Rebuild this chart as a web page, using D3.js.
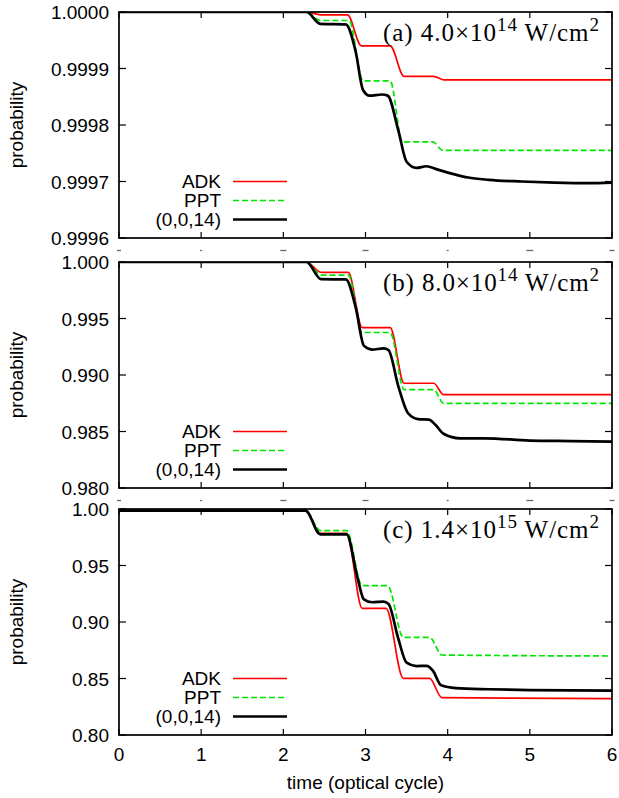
<!DOCTYPE html>
<html>
<head>
<meta charset="utf-8">
<script src="https://cdn.jsdelivr.net/npm/d3@7/dist/d3.min.js"></script>
<style>
  body { margin: 0; background: #fff; }
  svg { display: block; }
  text { font-family: "Liberation Sans", Arial, sans-serif; }
  text.ann { font-family: "Liberation Serif", "Times New Roman", serif; }
</style>
</head>
<body>
<div id="graph"></div>
<script>
// time in optical cycles, probability
var adkA = [[0,1],[2.28,1],[2.45,0.999995],[2.78,0.999995],[2.95,0.99994],[3.30,0.99994],[3.47,0.999886],[3.83,0.999886],[3.95,0.99988],[6,0.99988]]
var pptA = [[0,1],[2.28,1],[2.45,0.999985],[2.80,0.999985],[2.97,0.999878],[3.30,0.999878],[3.45,0.99977],[3.82,0.99977],[3.94,0.999755],[6,0.999755]]
var tdA  = [[0,1],[2.28,1],[2.45,0.999979],[2.76,0.999978],[2.88,0.99993],[2.97,0.999862],[3.05,0.999852],[3.20,0.999854],[3.27,0.999852],[3.40,0.99979],[3.50,0.999735],[3.62,0.999724],[3.74,0.999727],[3.88,0.999721],[4.05,0.999714],[4.25,0.999707],[4.5,0.999703],[4.9,0.999700],[5.3,0.999698],[5.7,0.999697],[6,0.999698]]

var adkB = [[0,1],[2.28,1],[2.46,0.99908],[2.79,0.99908],[2.96,0.99420],[3.30,0.99420],[3.47,0.98927],[3.83,0.98927],[3.95,0.98826],[6,0.98826]]
var pptB = [[0,1],[2.28,1],[2.46,0.99884],[2.79,0.99884],[2.96,0.99376],[3.30,0.99376],[3.47,0.98871],[3.83,0.98871],[3.95,0.98749],[6,0.98749]]
var tdB  = [[0,1],[2.28,1],[2.46,0.99848],[2.76,0.99846],[2.88,0.9960],[2.98,0.99260],[3.08,0.99225],[3.22,0.99235],[3.28,0.99220],[3.40,0.9890],[3.52,0.98660],[3.64,0.98610],[3.77,0.98605],[3.85,0.98560],[3.95,0.98480],[4.15,0.98440],[4.45,0.98440],[5.0,0.98420],[5.5,0.98415],[6,0.98410]]

var adkC = [[0,0.9985],[2.27,0.9985],[2.45,0.97847],[2.77,0.97847],[2.96,0.91209],[3.25,0.91209],[3.46,0.85015],[3.78,0.85015],[3.93,0.83304],[6,0.83215]]
var pptC = [[0,0.9985],[2.27,0.9985],[2.45,0.98083],[2.77,0.98083],[2.96,0.93215],[3.27,0.93215],[3.46,0.88643],[3.78,0.88643],[3.93,0.87080],[6,0.86991]]
var tdC  = [[0,0.9985],[2.27,0.9985],[2.45,0.97758],[2.77,0.97758],[2.90,0.94],[2.98,0.9200],[3.08,0.9175],[3.22,0.9180],[3.28,0.9160],[3.40,0.8850],[3.50,0.8640],[3.62,0.8610],[3.74,0.8612],[3.82,0.8570],[3.92,0.8440],[4.1,0.8415],[4.5,0.8405],[5.0,0.8398],[6,0.8392]]

var xTicks = [0, 1, 2, 3, 4, 5, 6]
var yTicksA = [0.9996, 0.9997, 0.9998, 0.9999, 1.0000]
var yTicksB = [0.980, 0.985, 0.990, 0.995, 1.000]
var yTicksC = [0.80, 0.85, 0.90, 0.95, 1.00]
var legendNames = ['ADK', 'PPT', '(0,0,14)']
var labels = [['(a) 4.0×10', '14'], ['(b) 8.0×10', '14'], ['(c) 1.4×10', '15']]

var panels = [
  {top: 12, ticks: yTicksA, fmt: '.4f', series: [adkA, pptA, tdA], label: labels[0]},
  {top: 262, ticks: yTicksB, fmt: '.3f', series: [adkB, pptB, tdB], label: labels[1]},
  {top: 509, ticks: yTicksC, fmt: '.2f', series: [adkC, pptC, tdC], label: labels[2]}
]

var styles = [
  {stroke: '#ff0000', width: 1.7, dash: null},
  {stroke: '#00e600', width: 1.7, dash: '6,3'},
  {stroke: '#000', width: 2.7, dash: null}
]
// tops of the x tick digits that peek out under panels (a) and (b)
var fragW = [4, 2, 6, 6, 2, 7, 5]

var W = 619, H = 798
var left = 119, right = 612, ph = 226

var svg = d3.select('#graph').append('svg').attr('width', W).attr('height', H)

var x = d3.scaleLinear().domain([0, 6]).range([left, right])

panels.forEach(function(p, pi){
  var y = d3.scaleLinear().domain(d3.extent(p.ticks)).range([p.top + ph, p.top])
  var g = svg.append('g')

  var clipId = 'clip' + pi
  svg.append('clipPath').attr('id', clipId)
    .append('rect').attr('x', left).attr('y', p.top).attr('width', right - left).attr('height', ph)

  // curves
  var line = d3.line()
    .x(d => x(d[0]))
    .y(d => y(d[1]))
    .curve(d3.curveMonotoneX)

  p.series.forEach(function(s, si){
    g.append('path')
      .attr('d', line(s))
      .attr('fill', 'none')
      .attr('stroke', styles[si].stroke)
      .attr('stroke-width', styles[si].width)
      .attr('stroke-dasharray', styles[si].dash)
      .attr('stroke-linejoin', 'round')
      .attr('clip-path', 'url(#' + clipId + ')')
  })

  // frame + inward ticks
  g.append('rect')
    .attr('x', left).attr('y', p.top).attr('width', right - left).attr('height', ph)
    .attr('fill', 'none').attr('stroke', '#000').attr('stroke-width', 1.7)

  p.ticks.forEach(function(t){
    var yy = y(t)
    g.append('line').attr('x1', left).attr('x2', left + 7).attr('y1', yy).attr('y2', yy).attr('stroke', '#000').attr('stroke-width', 1.2)
    g.append('line').attr('x1', right - 7).attr('x2', right).attr('y1', yy).attr('y2', yy).attr('stroke', '#000').attr('stroke-width', 1.2)
    g.append('text')
      .attr('x', left - 10).attr('y', yy + 7)
      .attr('text-anchor', 'end')
      .attr('font-size', 19)
      .text(d3.format(p.fmt)(t))
  })

  xTicks.forEach(function(t, i){
    var xx = x(t)
    g.append('line').attr('x1', xx).attr('x2', xx).attr('y1', p.top).attr('y2', p.top + 6).attr('stroke', '#000').attr('stroke-width', 1.2)
    g.append('line').attr('x1', xx).attr('x2', xx).attr('y1', p.top + ph - 6).attr('y2', p.top + ph).attr('stroke', '#000').attr('stroke-width', 1.2)
    if (pi < 2) {
      // labels hidden under the next panel, only their tops show
      g.append('line')
        .attr('x1', xx - fragW[i] / 2).attr('x2', xx + fragW[i] / 2)
        .attr('y1', p.top + ph + 12.5).attr('y2', p.top + ph + 12.5)
        .attr('stroke', '#666').attr('stroke-width', 1.3)
    } else {
      g.append('text')
        .attr('x', xx).attr('y', p.top + ph + 26)
        .attr('text-anchor', 'middle')
        .attr('font-size', 19)
        .text(t)
    }
  })

  // y axis title
  g.append('text')
    .attr('transform', 'translate(' + 23 + ',' + (p.top + ph / 2) + ') rotate(-90)')
    .attr('text-anchor', 'middle')
    .attr('font-size', 19)
    .text('probability')

  // legend
  legendNames.forEach(function(name, i){
    var ly = p.top + 169.5 + i * 19
    g.append('text')
      .attr('x', 221).attr('y', ly + 6.5)
      .attr('text-anchor', 'end')
      .attr('font-size', 19)
      .text(name)
    g.append('line')
      .attr('x1', 233).attr('x2', 287).attr('y1', ly).attr('y2', ly)
      .attr('stroke', styles[i].stroke)
      .attr('stroke-width', styles[i].width)
      .attr('stroke-dasharray', styles[i].dash)
  })

  // intensity label
  var ann = g.append('text')
    .attr('class', 'ann')
    .attr('x', 600).attr('y', p.top + 28.5)
    .attr('text-anchor', 'end')
    .attr('font-size', 25)
  ann.append('tspan').text(p.label[0])
  ann.append('tspan').attr('dy', -10).attr('font-size', 19).text(p.label[1])
  ann.append('tspan').attr('dy', 10).text(' W/cm')
  ann.append('tspan').attr('dy', -10).attr('font-size', 19).text('2')
  var w = ann.node().getComputedTextLength()
  var n = ann.text().length
  ann.attr('letter-spacing', Math.max(0, (217 - w) / n))
})

svg.append('text')
  .attr('x', (left + right) / 2).attr('y', 789)
  .attr('text-anchor', 'middle')
  .attr('font-size', 19)
  .text('time (optical cycle)')
</script>
</body>
</html>
